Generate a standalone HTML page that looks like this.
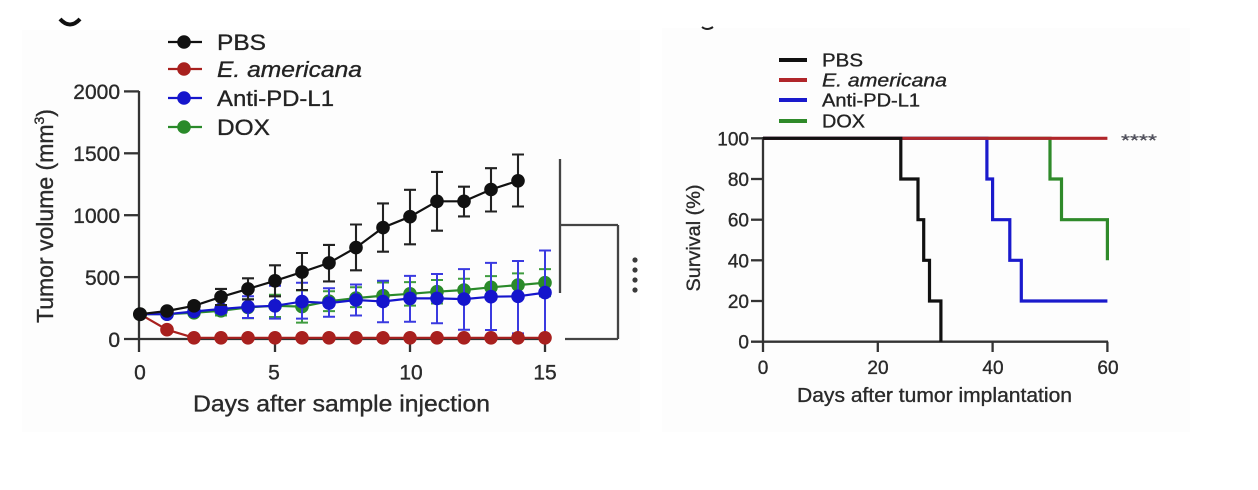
<!DOCTYPE html>
<html>
<head>
<meta charset="utf-8">
<style>
  html, body { margin:0; padding:0; background:#ffffff; }
  body { width:1258px; height:490px; overflow:hidden; }
  svg { display:block; }
  text { font-family: "Liberation Sans", Arial, sans-serif; stroke:#2a2a2a; stroke-width:0.35px; }
</style>
</head>
<body>
<svg width="1258" height="490" viewBox="0 0 1258 490" xmlns="http://www.w3.org/2000/svg">
  <rect x="0" y="0" width="1258" height="490" fill="#ffffff"/>
  <rect x="22" y="30" width="618" height="402" fill="#fdfdfd"/>
  <rect x="662" y="28" width="528" height="404" fill="#fdfdfd"/>

  <!-- panel letter fragments -->
  <path d="M60,19 Q70,30 80,19" fill="none" stroke="#111" stroke-width="4"/>
  <path d="M702,27 Q707,31 713,27" fill="none" stroke="#222" stroke-width="2"/>

  <!-- ================= LEFT CHART ================= -->
  <g stroke="#333" stroke-width="2.3" fill="none">
    <line x1="139" y1="91" x2="139" y2="352"/>
    <line x1="124" y1="91.4" x2="139" y2="91.4"/>
    <line x1="124" y1="153.3" x2="139" y2="153.3"/>
    <line x1="124" y1="215.2" x2="139" y2="215.2"/>
    <line x1="124" y1="277.1" x2="139" y2="277.1"/>
    <line x1="124" y1="339" x2="546" y2="339"/>
    <line x1="275" y1="339" x2="275" y2="352"/>
    <line x1="410" y1="339" x2="410" y2="352"/>
    <line x1="545" y1="339" x2="545" y2="352"/>
  </g>
  <g font-size="21" fill="#2a2a2a" text-anchor="end">
    <text x="120" y="99">2000</text>
    <text x="120" y="161">1500</text>
    <text x="120" y="223">1000</text>
    <text x="120" y="285">500</text>
    <text x="120" y="347">0</text>
  </g>
  <g font-size="21" fill="#2a2a2a" text-anchor="middle">
    <text x="140" y="379.5">0</text>
    <text x="274" y="379.5">5</text>
    <text x="411" y="379.5">10</text>
    <text x="545" y="379.5">15</text>
  </g>
  <text x="193" y="411.5" font-size="23" fill="#2a2a2a" textLength="297" lengthAdjust="spacingAndGlyphs">Days after sample injection</text>
  <text transform="translate(53,216) rotate(-90)" font-size="23" fill="#2a2a2a" text-anchor="middle">Tumor volume (mm<tspan font-size="14" dy="-9">3</tspan><tspan dy="9">)</tspan></text>

  <!-- bracket -->
  <g stroke="#444" stroke-width="2.3" fill="none">
    <line x1="560" y1="159" x2="560" y2="293"/>
    <line x1="560" y1="225" x2="618" y2="225"/>
    <line x1="618" y1="225" x2="618" y2="339"/>
    <line x1="565" y1="339" x2="618" y2="339"/>
  </g>
  <g fill="#3a3a3a">
    <circle cx="635" cy="260" r="2.6"/>
    <circle cx="635" cy="270" r="2.6"/>
    <circle cx="635" cy="280" r="2.6"/>
    <circle cx="635" cy="290" r="2.6"/>
  </g>

  <!-- left legend -->
  <g stroke-width="2.2">
    <line x1="168" y1="42" x2="202" y2="42" stroke="#111"/>
    <circle cx="184" cy="42" r="6.8" fill="#111"/>
    <line x1="168" y1="69" x2="202" y2="69" stroke="#a8201e"/>
    <circle cx="184" cy="69" r="6.8" fill="#a8201e"/>
    <line x1="168" y1="98" x2="202" y2="98" stroke="#1515cc"/>
    <circle cx="184" cy="98" r="6.8" fill="#1515cc"/>
    <line x1="168" y1="127" x2="202" y2="127" stroke="#2a8a2a"/>
    <circle cx="184" cy="127" r="6.8" fill="#2a8a2a"/>
  </g>
  <g font-size="22" fill="#222">
    <text x="217" y="50" textLength="49" lengthAdjust="spacingAndGlyphs">PBS</text>
    <text x="217" y="77" font-style="italic" textLength="145" lengthAdjust="spacingAndGlyphs">E. americana</text>
    <text x="217" y="106" textLength="117" lengthAdjust="spacingAndGlyphs">Anti-PD-L1</text>
    <text x="217" y="135" textLength="53" lengthAdjust="spacingAndGlyphs">DOX</text>
  </g>

  <!-- ================= RIGHT CHART ================= -->
  <g stroke="#333" stroke-width="2.3" fill="none">
    <line x1="763" y1="137" x2="763" y2="352"/>
    <line x1="751" y1="138.3" x2="763" y2="138.3"/>
    <line x1="751" y1="179" x2="763" y2="179"/>
    <line x1="751" y1="219.7" x2="763" y2="219.7"/>
    <line x1="751" y1="260.3" x2="763" y2="260.3"/>
    <line x1="751" y1="301" x2="763" y2="301"/>
    <line x1="751" y1="341.7" x2="1108" y2="341.7"/>
    <line x1="877.8" y1="341.7" x2="877.8" y2="352"/>
    <line x1="992.6" y1="341.7" x2="992.6" y2="352"/>
    <line x1="1107.4" y1="341.7" x2="1107.4" y2="352"/>
  </g>
  <g font-size="19" fill="#2a2a2a" text-anchor="end">
    <text x="749" y="145.3">100</text>
    <text x="749" y="186">80</text>
    <text x="749" y="226.7">60</text>
    <text x="749" y="267.3">40</text>
    <text x="749" y="308">20</text>
    <text x="749" y="348.7">0</text>
  </g>
  <g font-size="19" fill="#2a2a2a" text-anchor="middle">
    <text x="763" y="374">0</text>
    <text x="878" y="374">20</text>
    <text x="993" y="374">40</text>
    <text x="1108" y="374">60</text>
  </g>
  <text x="797" y="402" font-size="20" fill="#2a2a2a" textLength="275" lengthAdjust="spacingAndGlyphs">Days after tumor implantation</text>
  <text transform="translate(700,238) rotate(-90)" font-size="19" fill="#2a2a2a" text-anchor="middle" textLength="107" lengthAdjust="spacingAndGlyphs">Survival (%)</text>

  <g fill="none" stroke-width="3.2" stroke-linejoin="miter">
    <path d="M763,138.3H1050V179H1061.5V219.7H1107.4V260.3" stroke="#2f8a2a"/>
    <path d="M763,138.3H986.9V179H992.6V219.7H1009.8V260.3H1021.3V301H1107.4" stroke="#1a1acc"/>
    <path d="M763,138.3H1107.4" stroke="#b0262a"/>
    <path d="M763,138.3H900.8V179H918V219.7H923.7V260.3H929.5V301H940.9V341.7" stroke="#111"/>
  </g>
  <text x="1121" y="146" font-size="17" fill="#556" style="stroke-width:0.2px" textLength="36" lengthAdjust="spacingAndGlyphs">****</text>

  <!-- right legend -->
  <g stroke-width="4">
    <line x1="779" y1="60" x2="807" y2="60" stroke="#111"/>
    <line x1="779" y1="80" x2="807" y2="80" stroke="#b0262a"/>
    <line x1="779" y1="100" x2="807" y2="100" stroke="#1a1acc"/>
    <line x1="779" y1="121" x2="807" y2="121" stroke="#2f8a2a"/>
  </g>
  <g font-size="18" fill="#222">
    <text x="822" y="66.5" textLength="41" lengthAdjust="spacingAndGlyphs">PBS</text>
    <text x="822" y="86.5" font-style="italic" textLength="125" lengthAdjust="spacingAndGlyphs">E. americana</text>
    <text x="822" y="106.5" textLength="98" lengthAdjust="spacingAndGlyphs">Anti-PD-L1</text>
    <text x="822" y="127.5" textLength="43" lengthAdjust="spacingAndGlyphs">DOX</text>
  </g>

  <!-- ===== left chart data ===== -->
  <!-- Green error bars -->
  <g stroke="#3f9c3f" stroke-width="2" fill="none">
    <path d="M221,315.5V307.3M215,315.5H227M215,307.3H227"/>
    <path d="M248,318.2V299.2M242,318.2H254M242,299.2H254"/>
    <path d="M275,317.0V294.8M269,317.0H281M269,294.8H281"/>
    <path d="M302,322.6V290.4M296,322.6H308M296,290.4H308"/>
    <path d="M329,311.1V291.3M323,311.1H335M323,291.3H335"/>
    <path d="M356,307.1V287.3M350,307.1H362M350,287.3H362"/>
    <path d="M383,304.8V282.5M377,304.8H389M377,282.5H389"/>
    <path d="M410,305.6V282.1M404,305.6H416M404,282.1H416"/>
    <path d="M437,303.5V280.0M431,303.5H443M431,280.0H443"/>
    <path d="M464,301.1V278.8M458,301.1H470M458,278.8H470"/>
    <path d="M491,298.4V276.1M485,298.4H497M485,276.1H497"/>
    <path d="M518,296.9V273.4M512,296.9H524M512,273.4H524"/>
    <path d="M545,296.3V269.1M539,296.3H551M539,269.1H551"/>
  </g>
  <path d="M140,314.2L167,314.2L194,312.8L221,310.8L248,307.4L275,305.8L302,306.6L329,301.2L356,298.1L383,295.7L410,293.8L437,291.7L464,290.0L491,287.3L518,285.1L545,282.7" fill="none" stroke="#2a8a2a" stroke-width="2.2"/>
  <g fill="#2a8a2a">
    <circle cx="140" cy="314.2" r="6.8"/><circle cx="167" cy="314.2" r="6.8"/><circle cx="194" cy="312.8" r="6.8"/><circle cx="221" cy="310.8" r="6.8"/>
    <circle cx="248" cy="307.4" r="6.8"/><circle cx="275" cy="305.8" r="6.8"/><circle cx="302" cy="306.6" r="6.8"/><circle cx="329" cy="301.2" r="6.8"/>
    <circle cx="356" cy="298.1" r="6.8"/><circle cx="383" cy="295.7" r="6.8"/><circle cx="410" cy="293.8" r="6.8"/><circle cx="437" cy="291.7" r="6.8"/>
    <circle cx="464" cy="290.0" r="6.8"/><circle cx="491" cy="287.3" r="6.8"/><circle cx="518" cy="285.1" r="6.8"/><circle cx="545" cy="282.7" r="6.8"/>
  </g>

  <!-- Blue error bars -->
  <g stroke="#3a3ae0" stroke-width="2" fill="none">
    <path d="M221,313.0V305.0M215,313.0H227M215,305.0H227"/>
    <path d="M248,318.0V296.3M242,318.0H254M242,296.3H254"/>
    <path d="M275,318.6V285.8M269,318.6H281M269,285.8H281"/>
    <path d="M302,318.6V282.7M296,318.6H308M296,282.7H308"/>
    <path d="M329,316.7V288.2M323,316.7H335M323,288.2H335"/>
    <path d="M356,315.5V284.5M350,315.5H362M350,284.5H362"/>
    <path d="M383,322.3V280.8M377,322.3H389M377,280.8H389"/>
    <path d="M410,321.7V275.9M404,321.7H416M404,275.9H416"/>
    <path d="M437,323.2V274.0M431,323.2H443M431,274.0H443"/>
    <path d="M464,329.7V269.1M458,329.7H470M458,269.1H470"/>
    <path d="M491,330.0V262.9M485,330.0H497M485,262.9H497"/>
    <path d="M518,333.4V261.0M512,333.4H524M512,261.0H524"/>
    <path d="M545,336.5V250.5M539,336.5H551M539,250.5H551"/>
  </g>
  <path d="M140,314.2L167,314.2L194,311.5L221,309.0L248,306.8L275,305.8L302,301.6L329,303.1L356,300.0L383,301.5L410,298.4L437,298.4L464,299.1L491,296.7L518,296.3L545,292.6" fill="none" stroke="#1515cc" stroke-width="2.2"/>
  <g fill="#1515cc">
    <circle cx="167" cy="314.2" r="6.8"/><circle cx="194" cy="311.5" r="6.8"/><circle cx="221" cy="309.0" r="6.8"/>
    <circle cx="248" cy="306.8" r="6.8"/><circle cx="275" cy="305.8" r="6.8"/><circle cx="302" cy="301.6" r="6.8"/><circle cx="329" cy="303.1" r="6.8"/>
    <circle cx="356" cy="300.0" r="6.8"/><circle cx="383" cy="301.5" r="6.8"/><circle cx="410" cy="298.4" r="6.8"/><circle cx="437" cy="298.4" r="6.8"/>
    <circle cx="464" cy="299.1" r="6.8"/><circle cx="491" cy="296.7" r="6.8"/><circle cx="518" cy="296.3" r="6.8"/><circle cx="545" cy="292.6" r="6.8"/>
  </g>

  <!-- Red -->
  <path d="M140,314.2L167,329.7L194,337.8L221,337.8L248,337.8L275,337.8L302,337.8L329,337.8L356,337.8L383,337.8L410,337.8L437,337.8L464,337.8L491,337.8L518,337.8L545,337.8" fill="none" stroke="#a8201e" stroke-width="2.2"/>
  <g fill="#a8201e">
    <circle cx="167" cy="329.7" r="6.8"/><circle cx="194" cy="337.8" r="6.8"/><circle cx="221" cy="337.8" r="6.8"/>
    <circle cx="248" cy="337.8" r="6.8"/><circle cx="275" cy="337.8" r="6.8"/><circle cx="302" cy="337.8" r="6.8"/><circle cx="329" cy="337.8" r="6.8"/>
    <circle cx="356" cy="337.8" r="6.8"/><circle cx="383" cy="337.8" r="6.8"/><circle cx="410" cy="337.8" r="6.8"/><circle cx="437" cy="337.8" r="6.8"/>
    <circle cx="464" cy="337.8" r="6.8"/><circle cx="491" cy="337.8" r="6.8"/><circle cx="518" cy="337.8" r="6.8"/><circle cx="545" cy="337.8" r="6.8"/>
  </g>

  <!-- Black (PBS) error bars -->
  <g stroke="#222" stroke-width="2.1" fill="none">
    <path d="M167,313.0V309.3M161,313.0H173M161,309.3H173"/>
    <path d="M194,308.7V302.5M188,308.7H200M188,302.5H200"/>
    <path d="M221,305.0V288.9M215,305.0H227M215,288.9H227"/>
    <path d="M248,299.4V278.3M242,299.4H254M242,278.3H254"/>
    <path d="M275,296.3V265.3M269,296.3H281M269,265.3H281"/>
    <path d="M302,290.1V253.0M296,290.1H308M296,253.0H308"/>
    <path d="M329,281.4V244.9M323,281.4H335M323,244.9H335"/>
    <path d="M356,270.3V224.5M350,270.3H362M350,224.5H362"/>
    <path d="M383,251.7V203.4M377,251.7H389M377,203.4H389"/>
    <path d="M410,244.3V189.8M404,244.3H416M404,189.8H416"/>
    <path d="M437,230.7V171.9M431,230.7H443M431,171.9H443"/>
    <path d="M464,216.4V186.7M458,216.4H470M458,186.7H470"/>
    <path d="M491,211.5V168.2M485,211.5H497M485,168.2H497"/>
    <path d="M518,206.5V154.5M512,206.5H524M512,154.5H524"/>
  </g>
  <path d="M140,314.2L167,311.0L194,305.8L221,296.9L248,288.9L275,280.8L302,272.1L329,262.9L356,247.6L383,227.6L410,216.7L437,201.3L464,201.3L491,189.5L518,180.8" fill="none" stroke="#111" stroke-width="2.2"/>
  <g fill="#111">
    <circle cx="140" cy="314.2" r="7"/><circle cx="167" cy="311.0" r="6.8"/><circle cx="194" cy="305.8" r="6.8"/><circle cx="221" cy="296.9" r="6.8"/>
    <circle cx="248" cy="288.9" r="6.8"/><circle cx="275" cy="280.8" r="6.8"/><circle cx="302" cy="272.1" r="6.8"/><circle cx="329" cy="262.9" r="6.8"/>
    <circle cx="356" cy="247.6" r="6.8"/><circle cx="383" cy="227.6" r="6.8"/><circle cx="410" cy="216.7" r="6.8"/><circle cx="437" cy="201.3" r="6.8"/>
    <circle cx="464" cy="201.3" r="6.8"/><circle cx="491" cy="189.5" r="6.8"/><circle cx="518" cy="180.8" r="6.8"/>
  </g>
</svg>
</body>
</html>
